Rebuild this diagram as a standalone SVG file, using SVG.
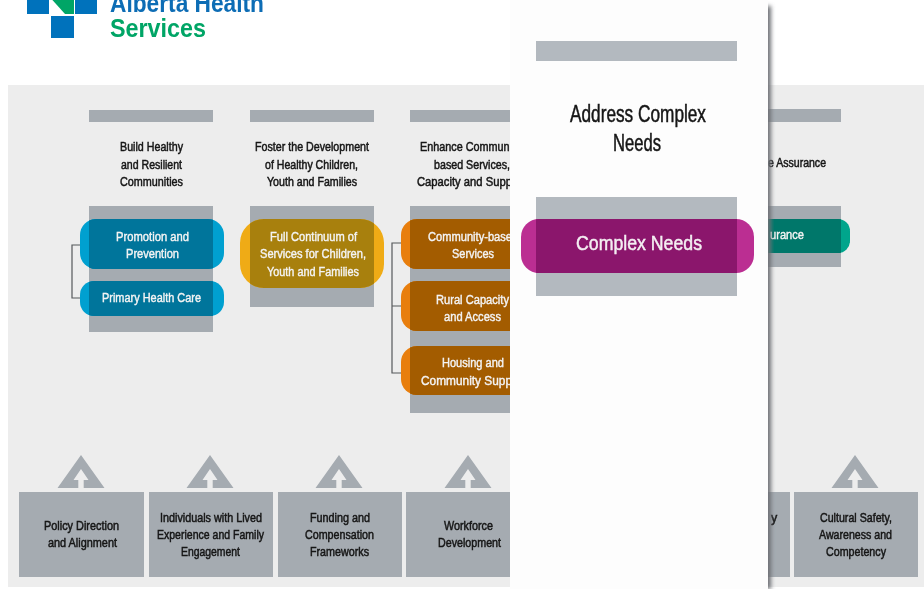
<svg xmlns="http://www.w3.org/2000/svg" width="924" height="589" viewBox="0 0 924 589">
<style>
text{font-family:"Liberation Sans",Arial,sans-serif;}
.h{font-size:12.5px;fill:#161616;stroke:#161616;stroke-width:.5;}
.p{font-size:12.5px;fill:#f4f4f4;stroke:#f4f4f4;stroke-width:.4;}
.b{font-size:12.5px;fill:#161616;stroke:#161616;stroke-width:.5;}
.bar{fill:#a5abb1;}
.box{fill:#a5abb1;}
.lite{fill:#b3b9bf;}
.ln{fill:none;stroke:#55585b;stroke-width:1.2;}
</style>
<defs>
<filter id="soft" x="-2%" y="-2%" width="104%" height="104%"><feGaussianBlur stdDeviation="0.7"/></filter>
<filter id="sh" x="-200%" width="500%" y="-1%" height="102%"><feGaussianBlur stdDeviation="2"/></filter>
<path id="ic" fill-rule="evenodd" d="M0 -33 L23.5 0 L-23.5 0 Z M0 -19 L-7.5 -8 L-2.7 -8 L-2.7 0 L2.7 0 L2.7 -8 L7.5 -8 Z" fill="#a5abb1"/>
<clipPath id="c1"><rect x="89" y="206" width="124" height="126"/></clipPath>
<clipPath id="c2"><rect x="250" y="206" width="124" height="101"/></clipPath>
<clipPath id="c3"><rect x="410" y="206" width="124" height="207"/></clipPath>
<clipPath id="c4"><rect x="717" y="206" width="124" height="61"/></clipPath>
<clipPath id="c5"><rect x="536" y="197" width="201" height="99"/></clipPath>
</defs>
<rect width="924" height="589" fill="#fff"/>
<g filter="url(#soft)">
<g id="logo">
<rect x="27" y="-6" width="22" height="20" fill="#0072bc"/>
<rect x="75" y="-6" width="22" height="20" fill="#0072bc"/>
<rect x="51" y="16" width="23" height="22" fill="#0072bc"/>
<polygon points="47,-6 74,-6 74,14 65,14" fill="#00a566"/>
<text x="110" y="12" font-size="26" font-weight="700" fill="#0f6db5" textLength="154" lengthAdjust="spacingAndGlyphs">Alberta Health</text>
<text x="110" y="37" font-size="26" font-weight="700" fill="#00a566" textLength="96" lengthAdjust="spacingAndGlyphs">Services</text>
</g>
<rect id="backdrop" x="8" y="85" width="916" height="502" fill="#ededed"/>
<g id="connectors">
<path class="ln" d="M80 245H72V298H80"/>
<path class="ln" d="M401 243H392V373H401M392 306H401"/>
</g>
<g id="col-healthy">
<rect class="bar" x="89" y="110" width="124" height="12"/>
<text class="h" x="120" y="151" textLength="63" lengthAdjust="spacingAndGlyphs">Build Healthy</text>
<text class="h" x="121" y="169" textLength="61" lengthAdjust="spacingAndGlyphs">and Resilient</text>
<text class="h" x="120" y="186" textLength="63" lengthAdjust="spacingAndGlyphs">Communities</text>
<rect class="box" x="89" y="206" width="124" height="126"/>
</g>
<g id="promotion">
<rect x="80" y="219" width="144" height="50" rx="16" fill="#00a0d0"/>
<rect x="80" y="219" width="144" height="50" rx="16" fill="#00759b" clip-path="url(#c1)"/>
<text class="p" x="116" y="241" textLength="73" lengthAdjust="spacingAndGlyphs">Promotion and</text>
<text class="p" x="126" y="258" textLength="53" lengthAdjust="spacingAndGlyphs">Prevention</text>
</g>
<g id="primary">
<rect x="80" y="281" width="144" height="35" rx="14" fill="#00a0d0"/>
<rect x="80" y="281" width="144" height="35" rx="14" fill="#00759b" clip-path="url(#c1)"/>
<text class="p" x="102" y="302" textLength="99" lengthAdjust="spacingAndGlyphs">Primary Health Care</text>
</g>
<g id="col-children">
<rect class="bar" x="250" y="110" width="124" height="12"/>
<text class="h" x="255" y="151" textLength="114" lengthAdjust="spacingAndGlyphs">Foster the Development</text>
<text class="h" x="265" y="169" textLength="93" lengthAdjust="spacingAndGlyphs">of Healthy Children,</text>
<text class="h" x="267" y="186" textLength="90" lengthAdjust="spacingAndGlyphs">Youth and Families</text>
<rect class="box" x="250" y="206" width="124" height="101"/>
</g>
<g id="continuum">
<rect x="240" y="219" width="144" height="69" rx="24" fill="#efab12"/>
<rect x="240" y="219" width="144" height="69" rx="24" fill="#a8800f" clip-path="url(#c2)"/>
<text class="p" x="270" y="241" textLength="87" lengthAdjust="spacingAndGlyphs">Full Continuum of</text>
<text class="p" x="260" y="258" textLength="106" lengthAdjust="spacingAndGlyphs">Services for Children,</text>
<text class="p" x="267" y="276" textLength="92" lengthAdjust="spacingAndGlyphs">Youth and Families</text>
</g>
<g id="col-community">
<rect class="bar" x="410" y="110" width="124" height="12"/>
<text class="h" x="420" y="151" textLength="92" lengthAdjust="spacingAndGlyphs">Enhance Communi</text>
<text class="h" x="434" y="169" textLength="76" lengthAdjust="spacingAndGlyphs">based Services,</text>
<text class="h" x="417" y="186" textLength="95" lengthAdjust="spacingAndGlyphs">Capacity and Supp</text>
<rect class="box" x="410" y="206" width="124" height="207"/>
</g>
<g id="community-based">
<rect x="401" y="219" width="144" height="50" rx="16" fill="#e87e0c"/>
<rect x="401" y="219" width="144" height="50" rx="16" fill="#a35c03" clip-path="url(#c3)"/>
<text class="p" x="428" y="241" textLength="84" lengthAdjust="spacingAndGlyphs">Community-base</text>
<text class="p" x="452" y="258" textLength="42" lengthAdjust="spacingAndGlyphs">Services</text>
</g>
<g id="rural">
<rect x="401" y="281" width="144" height="50" rx="16" fill="#e87e0c"/>
<rect x="401" y="281" width="144" height="50" rx="16" fill="#a35c03" clip-path="url(#c3)"/>
<text class="p" x="436" y="304" textLength="73" lengthAdjust="spacingAndGlyphs">Rural Capacity</text>
<text class="p" x="444" y="321" textLength="57" lengthAdjust="spacingAndGlyphs">and Access</text>
</g>
<g id="housing">
<rect x="401" y="346" width="144" height="49" rx="16" fill="#e87e0c"/>
<rect x="401" y="346" width="144" height="49" rx="16" fill="#a35c03" clip-path="url(#c3)"/>
<text class="p" x="442" y="367" textLength="62" lengthAdjust="spacingAndGlyphs">Housing and</text>
<text class="p" x="421" y="385" textLength="91" lengthAdjust="spacingAndGlyphs">Community Supp</text>
</g>
<g id="col-assurance">
<rect class="bar" x="717" y="109" width="124" height="13"/>
<text class="h" x="768" y="167" textLength="58" lengthAdjust="spacingAndGlyphs">e Assurance</text>
<rect class="box" x="717" y="206" width="124" height="61"/>
</g>
<g id="assurance">
<rect x="706" y="219" width="144" height="34" rx="12" fill="#00a58c"/>
<rect x="706" y="219" width="144" height="34" rx="12" fill="#00776a" clip-path="url(#c4)"/>
<text class="p" x="770" y="239" textLength="34" lengthAdjust="spacingAndGlyphs">urance</text>
</g>
<g id="foundations">
<g id="policy"><use href="#ic" x="81" y="488"/><rect class="box" x="19" y="492" width="125" height="85"/>
<text class="b" x="44" y="530" textLength="75" lengthAdjust="spacingAndGlyphs">Policy Direction</text>
<text class="b" x="48" y="547" textLength="69" lengthAdjust="spacingAndGlyphs">and Alignment</text></g>
<g id="individuals"><use href="#ic" x="210" y="488"/><rect class="box" x="149" y="492" width="124" height="85"/>
<text class="b" x="160" y="522" textLength="102" lengthAdjust="spacingAndGlyphs">Individuals with Lived</text>
<text class="b" x="157" y="539" textLength="107" lengthAdjust="spacingAndGlyphs">Experience and Family</text>
<text class="b" x="181" y="556" textLength="59" lengthAdjust="spacingAndGlyphs">Engagement</text></g>
<g id="funding"><use href="#ic" x="339" y="488"/><rect class="box" x="278" y="492" width="124" height="85"/>
<text class="b" x="310" y="522" textLength="60" lengthAdjust="spacingAndGlyphs">Funding and</text>
<text class="b" x="305" y="539" textLength="69" lengthAdjust="spacingAndGlyphs">Compensation</text>
<text class="b" x="310" y="556" textLength="59" lengthAdjust="spacingAndGlyphs">Frameworks</text></g>
<g id="workforce"><use href="#ic" x="468" y="488"/><rect class="box" x="406" y="492" width="124" height="85"/>
<text class="b" x="444" y="530" textLength="49" lengthAdjust="spacingAndGlyphs">Workforce</text>
<text class="b" x="438" y="547" textLength="63" lengthAdjust="spacingAndGlyphs">Development</text></g>
<g id="partial"><rect class="box" x="760" y="492" width="30" height="85"/>
<text class="b" x="771" y="522">y</text></g>
<g id="cultural"><use href="#ic" x="855" y="488"/><rect class="box" x="794" y="492" width="124" height="85"/>
<text class="b" x="820" y="522" textLength="72" lengthAdjust="spacingAndGlyphs">Cultural Safety,</text>
<text class="b" x="819" y="539" textLength="73" lengthAdjust="spacingAndGlyphs">Awareness and</text>
<text class="b" x="826" y="556" textLength="60" lengthAdjust="spacingAndGlyphs">Competency</text></g>
</g>
<rect x="764" y="6" width="7" height="583" fill="#6d7074" filter="url(#sh)"/>
<g id="panel">
<rect x="510" y="-4" width="258" height="593" fill="#fdfdfd"/>
<rect class="lite" x="536" y="41" width="201" height="20"/>
<text x="570" y="122" font-size="23" fill="#161616" stroke="#161616" stroke-width=".5" textLength="136" lengthAdjust="spacingAndGlyphs">Address Complex</text>
<text x="613" y="151" font-size="23" fill="#161616" stroke="#161616" stroke-width=".5" textLength="48" lengthAdjust="spacingAndGlyphs">Needs</text>
<rect class="lite" x="536" y="197" width="201" height="99"/>
<rect x="521" y="219" width="233" height="54" rx="18" fill="#bb2d92"/>
<rect x="521" y="219" width="233" height="54" rx="18" fill="#8b166c" clip-path="url(#c5)"/>
<text x="576" y="250" font-size="21" fill="#f4eef2" stroke="#f4eef2" stroke-width=".5" textLength="126" lengthAdjust="spacingAndGlyphs">Complex Needs</text>
</g>
</g>
</svg>
